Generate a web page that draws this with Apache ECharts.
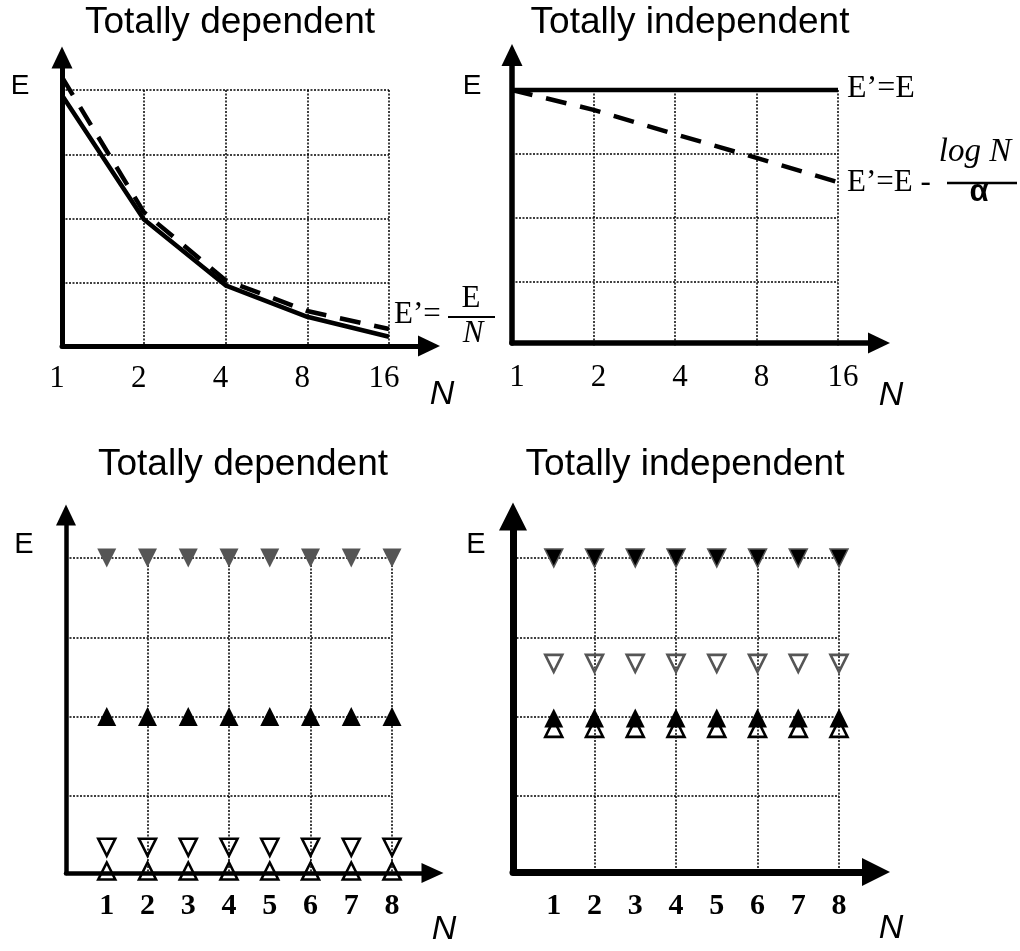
<!DOCTYPE html>
<html><head><meta charset="utf-8">
<script src="https://cdn.jsdelivr.net/npm/echarts@6/dist/echarts.min.js"></script>
<style>html,body{margin:0;padding:0;background:#fff}#c{width:1020px;height:951px}</style>
</head><body><div id="c"></div>
<script>
// ---- data ----
const topCategories = ['1', '2', '4', '8', '16'];
const depSolid = [3.92, 1.99, 0.96, 0.47, 0.16];
const depDashed = [4.2, 2.1, 1.04, 0.56, 0.28];
const indepSolid = [4, 4, 4, 4, 4];
const indepDashed = [4, 3.69, 3.31, 2.94, 2.56];
const bottomN = [1, 2, 3, 4, 5, 6, 7, 8];
const depTopFilled = [4, 4, 4, 4, 4, 4, 4, 4];
const depMidFilled = [2, 2, 2, 2, 2, 2, 2, 2];
const depOpenDown = [0.35, 0.35, 0.35, 0.35, 0.35, 0.35, 0.35, 0.35];
const depOpenUp = [0.05, 0.05, 0.05, 0.05, 0.05, 0.05, 0.05, 0.05];
const indTopFilled = [4, 4, 4, 4, 4, 4, 4, 4];
const indOpenDown = [2.67, 2.67, 2.67, 2.67, 2.67, 2.67, 2.67, 2.67];
const indFilledUp = [1.98, 1.98, 1.98, 1.98, 1.98, 1.98, 1.98, 1.98];
const indOpenUp = [1.85, 1.85, 1.85, 1.85, 1.85, 1.85, 1.85, 1.85];
const panelTitles = ['Totally dependent', 'Totally independent', 'Totally dependent', 'Totally independent'];

// ---- helpers ----
const SANS = '"Liberation Sans", Arial, sans-serif';
const SERIF = '"Liberation Serif", "Times New Roman", serif';
const dotted = { color: '#000', width: 1.5, type: [2, 1.5] };
const pairs = (arr) => bottomN.map((n, i) => [n, arr[i]]);

const grids = [
  { left: 62, top: 90, width: 327, height: 257 },
  { left: 512, top: 90, width: 326, height: 256 },
  { left: 66, top: 558, width: 326, height: 317 },
  { left: 513, top: 558, width: 326, height: 317 },
  // frames (axis lines with arrows)
  { left: 62, top: 57.5, width: 367, height: 288.5 },
  { left: 512, top: 55, width: 367, height: 288 },
  { left: 66, top: 515, width: 366.5, height: 358 },
  { left: 513, top: 516.5, width: 363, height: 355.5 }
].map(g => Object.assign({ outerBoundsMode: 'none', containLabel: false }, g));

function catX(gi, pad) {
  return {
    type: 'category', gridIndex: gi, data: topCategories, boundaryGap: false,
    axisLine: { show: false }, axisTick: { show: false },
    axisLabel: { interval: 0, margin: 16, color: '#000', fontFamily: SERIF, fontSize: 31, lineHeight: 31, padding: pad },
    splitLine: { show: true, interval: 0, showMinLine: false, lineStyle: dotted }
  };
}
function labelX(gi) {
  return {
    type: 'value', gridIndex: gi, min: 0, max: 8, interval: 1,
    axisLine: { show: false }, axisTick: { show: false },
    axisLabel: { margin: 16, color: '#000', fontFamily: SERIF, fontWeight: 'bold', fontSize: 30, lineHeight: 30,
      formatter: v => (v === 0 ? '' : String(v)) },
    splitLine: { show: false }
  };
}
function splitX(gi) {
  return {
    type: 'value', gridIndex: gi, min: 0, max: 8, interval: 2, position: 'top',
    axisLine: { show: false }, axisTick: { show: false }, axisLabel: { show: false },
    splitLine: { show: true, showMinLine: false, lineStyle: dotted }
  };
}
function dataY(gi) {
  return {
    type: 'value', gridIndex: gi, min: 0, max: 4, interval: 1,
    axisLine: { show: false }, axisTick: { show: false }, axisLabel: { show: false },
    splitLine: { show: true, showMinLine: false, lineStyle: dotted }
  };
}
function frameAxis(gi, w, size) {
  return {
    type: 'value', gridIndex: gi, min: 0, max: 1, z: 5,
    axisLine: { show: true, onZero: false, symbol: ['none', 'triangle'], symbolSize: size,
      lineStyle: { color: '#000', width: w } },
    axisTick: { show: false }, axisLabel: { show: false }, splitLine: { show: false }
  };
}

const xAxis = [
  catX(0, [0, 10, 0, 0]), catX(1, [0, 0, 0, 10]), labelX(2), splitX(2), labelX(3), splitX(3),
  frameAxis(4, 5, [21, 22]), frameAxis(5, 5.5, [21, 22]), frameAxis(6, 4.5, [20, 22]), frameAxis(7, 7, [28, 28])
];
const yAxis = [
  dataY(0), dataY(1), dataY(2), dataY(3),
  frameAxis(4, 5, [21, 22]), frameAxis(5, 5.5, [21, 22]), frameAxis(6, 4.5, [20, 21]), frameAxis(7, 7, [28, 28])
];

function lineSeries(xi, yi, data, dashed) {
  return {
    type: 'line', xAxisIndex: xi, yAxisIndex: yi, data: data, symbol: 'none', clip: false,
    lineStyle: { color: '#000', width: 4.5, type: dashed ? [21, 14] : 'solid' }, z: 3
  };
}
function markSeries(xi, yi, data, opt) {
  return {
    type: 'scatter', xAxisIndex: xi, yAxisIndex: yi, data: pairs(data), clip: false,
    symbol: 'triangle', symbolRotate: opt.down ? 180 : 0, symbolSize: opt.size || 19,
    itemStyle: { color: opt.fill, borderColor: opt.border || opt.fill, borderWidth: opt.bw || 0, opacity: 1 },
    z: 4
  };
}

const series = [
  lineSeries(0, 0, depSolid, false),
  lineSeries(0, 0, depDashed, true),
  lineSeries(1, 1, indepSolid, false),
  lineSeries(1, 1, indepDashed, true),
  markSeries(2, 2, depTopFilled, { down: true, fill: '#555555' }),
  markSeries(2, 2, depMidFilled, { fill: '#000000' }),
  markSeries(2, 2, depOpenDown, { down: true, fill: 'rgba(255,255,255,0)', border: '#000', bw: 2.6, size: 17 }),
  markSeries(2, 2, depOpenUp, { fill: 'rgba(255,255,255,0)', border: '#000', bw: 2.6, size: 17 }),
  markSeries(4, 3, indTopFilled, { down: true, fill: '#000000', border: '#555555', bw: 1.5, size: 18 }),
  markSeries(4, 3, indOpenDown, { down: true, fill: 'rgba(255,255,255,0)', border: '#555555', bw: 2.6, size: 17 }),
  markSeries(4, 3, indOpenUp, { fill: 'rgba(255,255,255,0)', border: '#000', bw: 2.6, size: 17 }),
  markSeries(4, 3, indFilledUp, { fill: '#000000' })
];

function txt(x, y, text, font, align) {
  return { type: 'text', x: x, y: y, z: 10,
    style: { text: text, font: font, fill: '#000', align: align || 'center', verticalAlign: 'middle',
      textAlign: align || 'center', textVerticalAlign: 'middle' } };
}
function bar(x1, x2, y, w) {
  return { type: 'line', z: 10, shape: { x1: x1, y1: y, x2: x2, y2: y }, style: { stroke: '#000', lineWidth: w } };
}

const graphic = [
  txt(230, 22.5, panelTitles[0], '37px ' + SANS),
  txt(690, 22.5, panelTitles[1], '37px ' + SANS),
  txt(243, 464.5, panelTitles[2], '37px ' + SANS),
  txt(685, 464.5, panelTitles[3], '37px ' + SANS),
  txt(20, 86, 'E', '28px ' + SANS),
  txt(472, 86, 'E', '28px ' + SANS),
  txt(24, 545, 'E', '29px ' + SANS),
  txt(476, 545, 'E', '29px ' + SANS),
  txt(442, 395, 'N', 'italic 34px ' + SANS),
  txt(891, 396, 'N', 'italic 34px ' + SANS),
  txt(444, 930, 'N', 'italic 34px ' + SANS),
  txt(891, 929, 'N', 'italic 34px ' + SANS),
  // E' = E / N
  txt(394, 315, 'E\u2019=', '31px ' + SERIF, 'left'),
  txt(471, 299, 'E', '31px ' + SERIF),
  bar(448, 495, 317, 2),
  txt(473, 334, 'N', 'italic 31px ' + SERIF),
  // E' = E
  txt(847, 89, 'E\u2019=E', '32px ' + SERIF, 'left'),
  // E' = E - log N / alpha
  txt(847, 183, 'E\u2019=E -', '31px ' + SERIF, 'left'),
  txt(975, 152, 'log N', 'italic 33px ' + SERIF),
  bar(947, 1017, 183, 2.5),
  txt(979, 192, '\u03b1', 'bold 31px ' + SANS)
];

const chart = echarts.init(document.getElementById('c'), null, { renderer: 'canvas' });
chart.setOption({
  backgroundColor: '#fff',
  animation: false,
  grid: grids,
  xAxis: xAxis,
  yAxis: yAxis,
  series: series,
  graphic: graphic
});
</script>
</body></html>
